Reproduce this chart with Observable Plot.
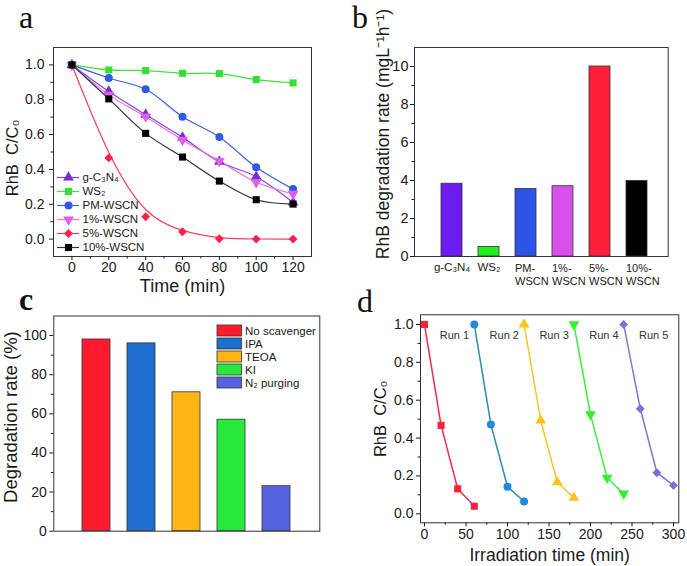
<!DOCTYPE html>
<html><head><meta charset="utf-8">
<script src="https://cdn.jsdelivr.net/npm/d3@7"></script>
<script src="https://cdn.jsdelivr.net/npm/@observablehq/plot@0.6"></script>
<style>
body{margin:0;background:#fff;}
#root{position:relative;width:687px;height:566px;overflow:hidden;background:#fff;font-family:'Liberation Sans',Arial,sans-serif;color:#1a1a1a;}
.lbl{position:absolute;font-family:'Liberation Serif','Times New Roman',serif;font-size:32px;line-height:32px;color:#111;}
</style></head><body><div id="root"></div>
<script>
// ---------- Panel a data ----------
const timesA = [0, 20, 40, 60, 80, 100, 120];
const seriesA = ["g-C₃N₄", "WS₂", "PM-WSCN", "1%-WSCN", "5%-WSCN", "10%-WSCN"];
const valsG   = [1, 0.848, 0.715, 0.584, 0.444, 0.358, 0.21];
const valsWS2 = [1, 0.971, 0.967, 0.952, 0.95, 0.916, 0.897];
const valsPM  = [1, 0.925, 0.86, 0.703, 0.586, 0.412, 0.287];
const vals1   = [1, 0.828, 0.703, 0.569, 0.448, 0.326, 0.259];
const vals5   = [1, 0.466, 0.128, 0.042, 0.002, 0, 0];
const vals10  = [1, 0.805, 0.607, 0.471, 0.333, 0.226, 0.201];
const ticksAx = [0, 20, 40, 60, 80, 100, 120];
const minorAx = [10, 30, 50, 70, 90, 110];
const ticksAy = [0, 0.2, 0.4, 0.6, 0.8, 1.0];
const minorAy = [0.1, 0.3, 0.5, 0.7, 0.9];

// ---------- Panel b data ----------
const catsB = ["g-C₃N₄", "WS₂", "PM-\nWSCN", "1%-\nWSCN", "5%-\nWSCN", "10%-\nWSCN"];
const ratesB = [3.83, 0.5, 3.55, 3.7, 10.0, 3.98];
const ticksBy = [0, 2, 4, 6, 8, 10];
const minorBy = [1, 3, 5, 7, 9];

// ---------- Panel c data ----------
const scavengers = ["No scavenger", "IPA", "TEOA", "KI", "N₂ purging"];
const degrC = [98, 96, 71, 57, 23];
const ticksCy = [0, 20, 40, 60, 80, 100];
const minorCy = [10, 30, 50, 70, 90];

// ---------- Panel d data ----------
const runs = ["Run 1", "Run 2", "Run 3", "Run 4", "Run 5"];
const runTimes = [[0, 20, 40, 60], [60, 80, 100, 120], [120, 140, 160, 180], [180, 200, 220, 240], [240, 260, 280, 300]];
const runVals = [[1, 0.467, 0.132, 0.04], [1, 0.472, 0.143, 0.065], [1, 0.493, 0.167, 0.085], [1, 0.525, 0.19, 0.106], [1, 0.555, 0.217, 0.15]];
const ticksDx = [0, 50, 100, 150, 200, 250, 300];
const minorDx = [25, 75, 125, 175, 225, 275];
const ticksDy = [0, 0.2, 0.4, 0.6, 0.8, 1.0];
const minorDy = [0.1, 0.3, 0.5, 0.7, 0.9];

// ---------- styles ----------
const markerColorsA = ["#7a2ad8", "#33e033", "#2f5ae6", "#e05ee8", "#ff1f4c", "#000000"];
const lineColorsA   = ["#8a45dc", "#3fe03f", "#3f62e0", "#e46ee8", "#ff3a62", "#2a2d5c"];
const symbolsA = ["triangle", "square", "circle", "triangle", "diamond2", "square"];
const rotA = [0, 0, 0, 180, 0, 0];
const curvesA = ["catmull-rom", "catmull-rom", "catmull-rom", "catmull-rom", "basis", "catmull-rom"];
const colorsB = ["#6c1cf0", "#22ee22", "#2e52e6", "#d850ea", "#ff1f3a", "#000000"];
const colorsC = ["#ff1a2e", "#1f6fd0", "#ffb516", "#28e83c", "#5563e0"];
const markerColorsD = ["#ff2040", "#2288dd", "#ffc21a", "#33ee33", "#7474d8"];
const lineColorsD = ["#ff2a48", "#2a8fae", "#ffc428", "#3cee3c", "#7a7ad8"];
const symbolsD = ["square", "circle", "triangle", "triangle", "diamond2"];
const rotD = [0, 0, 0, 180, 0];

const FONT = "'Liberation Sans', Arial, sans-serif";
const FRAME = "#333";
const baseStyle = {fontFamily: FONT, background: "transparent", overflow: "visible", color: "#1a1a1a"};
const root = document.getElementById("root");
function place(el, left, top) {
  Object.assign(el.style, {position: "absolute", left: left + "px", top: top + "px"});
  root.appendChild(el);
}
const blank = () => "";
const C = {textAnchor: "middle", lineAnchor: "middle"};

// ---------- Panel a ----------
const valuesA = [valsG, valsWS2, valsPM, vals1, vals5, vals10];
const dataA = seriesA.flatMap((s, i) => timesA.map((t, j) => ({s, t, v: valuesA[i][j]})));
const plotA = Plot.plot({
  width: 345, height: 285, marginLeft: 53, marginRight: 34, marginTop: 47, marginBottom: 29,
  style: baseStyle,
  x: {domain: [-10, 130]}, y: {domain: [-0.1, 1.1]},
  color: {domain: seriesA, range: markerColorsA},
  symbol: {domain: seriesA, range: symbolsA},
  marks: [
    Plot.frame({stroke: FRAME}),
    Plot.axisX({ticks: ticksAx, tickSize: 4, tickPadding: 2, fontSize: 14, label: null}),
    Plot.axisX({ticks: minorAx, tickSize: 2.5, tickFormat: blank, label: null}),
    Plot.axisY({ticks: ticksAy, tickSize: 4, tickPadding: 5, tickFormat: d3.format(".1f"), fontSize: 14, label: null}),
    Plot.axisY({ticks: minorAy, tickSize: 2.5, tickFormat: blank, label: null}),
    ...seriesA.map((s, i) => Plot.line(dataA.filter(d => d.s === s), {x: "t", y: "v", stroke: lineColorsA[i], strokeWidth: 1.2, curve: curvesA[i]})),
    Plot.dot(dataA, {x: "t", y: "v", fill: "s", symbol: "s", r: 4, rotate: d => rotA[seriesA.indexOf(d.s)]}),
    Plot.text(["Time (min)"], {...C, frameAnchor: "bottom", dy: 30, fontSize: 18, text: d => d}),
    Plot.text(["RhB  C/C₀"], {...C, frameAnchor: "left", dx: -41, dy: 6, rotate: -90, fontSize: 16.5, text: d => d})
  ]
});
place(plotA, 0, 0);

const legA = Plot.plot({
  width: 22, height: 86.4, margin: 0, style: baseStyle,
  y: {type: "point", domain: seriesA, padding: 0.5, axis: null},
  color: {domain: seriesA, range: markerColorsA},
  symbol: {domain: seriesA, range: symbolsA},
  marks: [
    ...seriesA.map((s, i) => Plot.ruleY([s], {y: d => d, stroke: lineColorsA[i], strokeWidth: 1.2})),
    Plot.dot(seriesA, {y: d => d, fill: d => d, symbol: d => d, r: 4, rotate: (d, i) => rotA[i]}),
    Plot.text(seriesA, {y: d => d, text: d => d, frameAnchor: "right", dx: 3, textAnchor: "start", lineAnchor: "middle", fontSize: 11.5})
  ]
});
place(legA, 56.5, 168.5);

// ---------- Panel b ----------
const dataB = catsB.map((name, i) => ({name, v: ratesB[i]}));
const plotB = Plot.plot({
  width: 342, height: 290, marginLeft: 69, marginRight: 19.3, marginTop: 47, marginBottom: 34,
  style: baseStyle,
  x: {type: "band", domain: catsB, paddingInner: 0.43, paddingOuter: 0.61, align: 0.57, axis: null},
  y: {domain: [0, 11]},
  color: {domain: catsB, range: colorsB},
  marks: [
    Plot.barY(dataB, {x: "name", y: "v", fill: "name", stroke: "#333", strokeWidth: 0.8}),
    Plot.frame({stroke: FRAME}),
    Plot.axisY({ticks: ticksBy, tickSize: 4, tickPadding: 2, fontSize: 14.5, label: null}),
    Plot.axisY({ticks: minorBy, tickSize: 2.5, tickFormat: blank, label: null}),
    Plot.text(dataB.filter(d => !d.name.includes("\n")), {x: "name", text: "name", frameAnchor: "bottom", dy: 6, lineAnchor: "top", textAnchor: "middle", fontSize: 11.5}),
    Plot.text(dataB.filter(d => d.name.includes("\n")), {x: "name", text: "name", frameAnchor: "bottom", dy: 6, dx: -11, lineAnchor: "top", textAnchor: "start", lineHeight: 1.22, fontSize: 11}),
    Plot.text(["RhB degradation rate (mgL⁻¹h⁻¹)"], {...C, frameAnchor: "left", dx: -31, dy: -18, rotate: -90, fontSize: 17.5, text: d => d})
  ]
});
place(plotB, 345, 0);

// ---------- Panel c ----------
const dataC = scavengers.map((name, i) => ({name, v: degrC[i]}));
const plotC = Plot.plot({
  width: 345, height: 281, marginLeft: 53.3, marginRight: 25.7, marginTop: 30.5, marginBottom: 35.3,
  style: baseStyle,
  x: {type: "band", domain: scavengers, paddingInner: 0.382, paddingOuter: 0.595, axis: null},
  y: {domain: [0, 110]},
  color: {domain: scavengers, range: colorsC},
  marks: [
    Plot.barY(dataC, {x: "name", y: "v", fill: "name", stroke: "#333", strokeWidth: 0.8}),
    Plot.frame({stroke: FRAME}),
    Plot.axisY({ticks: ticksCy, tickSize: 4, tickPadding: 3, fontSize: 14, label: null}),
    Plot.axisY({ticks: minorCy, tickSize: 2.5, tickFormat: blank, label: null}),
    Plot.text(["Degradation rate (%)"], {...C, frameAnchor: "left", dx: -43, dy: -6.5, rotate: -90, fontSize: 18.5, text: d => d})
  ]
});
place(plotC, 0, 285);

const legC = Plot.plot({
  width: 24.5, height: 68.75, margin: 0, style: baseStyle,
  y: {type: "band", domain: scavengers, padding: 0.12, axis: null},
  color: {domain: scavengers, range: colorsC},
  marks: [
    Plot.cell(scavengers, {y: d => d, fill: d => d, stroke: "#333", strokeWidth: 0.8}),
    Plot.text(scavengers, {y: d => d, text: d => d, frameAnchor: "right", dx: 3, textAnchor: "start", lineAnchor: "middle", fontSize: 11.5})
  ]
});
place(legC, 216.5, 322.1);

// ---------- Panel d ----------
const dataD = runs.flatMap((r, i) => runTimes[i].map((t, j) => ({r, t, v: runVals[i][j]})));
const plotD = Plot.plot({
  width: 342, height: 281, marginLeft: 75, marginRight: 8.7, marginTop: 29.3, marginBottom: 43.7,
  style: baseStyle,
  x: {domain: [-4.8, 306.4]}, y: {domain: [-0.0475, 1.051]},
  color: {domain: runs, range: markerColorsD},
  symbol: {domain: runs, range: symbolsD},
  marks: [
    Plot.frame({stroke: FRAME}),
    Plot.axisX({ticks: ticksDx, tickSize: 4, tickPadding: 2, fontSize: 14, label: null}),
    Plot.axisX({ticks: minorDx, tickSize: 2.5, tickFormat: blank, label: null}),
    Plot.axisY({ticks: ticksDy, tickSize: 4, tickPadding: 3, tickFormat: d3.format(".1f"), fontSize: 14, label: null}),
    Plot.axisY({ticks: minorDy, tickSize: 2.5, tickFormat: blank, label: null}),
    ...runs.map((r, i) => Plot.line(dataD.filter(d => d.r === r), {x: "t", y: "v", stroke: lineColorsD[i], strokeWidth: 1.5})),
    Plot.dot(dataD, {x: "t", y: "v", fill: "r", symbol: "r", r: 4, rotate: d => rotD[runs.indexOf(d.r)]}),
    Plot.text(runs, {...C, x: (d, i) => runTimes[i][0], text: d => d, frameAnchor: "top", dy: 21, dx: 30, fontSize: 11, fill: "#333"}),
    Plot.text(["Irradiation time (min)"], {...C, frameAnchor: "bottom", dy: 32.7, fontSize: 17.5, text: d => d}),
    Plot.text(["RhB  C/C₀"], {...C, frameAnchor: "left", dx: -40, rotate: -90, fontSize: 16.5, text: d => d})
  ]
});
place(plotD, 345, 285);

// ---------- panel letters ----------
[["a", 19, 1, "normal"], ["b", 352, 1, "normal"], ["c", 19, 283, "bold"], ["d", 357, 285, "normal"]].forEach(([t, x, y, w]) => {
  const el = document.createElement("div");
  el.className = "lbl";
  el.textContent = t;
  el.style.fontWeight = w;
  place(el, x, y);
});
</script></body></html>
